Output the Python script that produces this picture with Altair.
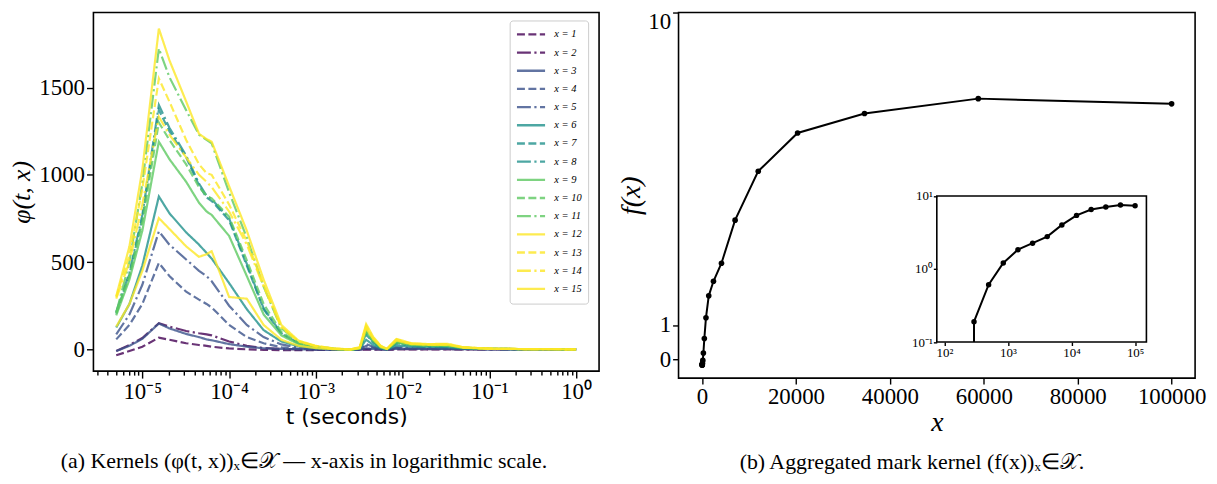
import altair as alt
import pandas as pd

SERIF = "Liberation Serif"
SANS = "DejaVu Sans"

# ---------------- left panel data: kernels phi(t, x) ----------------
t_grid = [5.0e-6, 7.1e-6, 1.0e-5, 1.55e-5, 2.05e-5, 3.2e-5, 4.5e-5, 5.5e-5, 6.3e-5, 1.0e-4,
          1.6e-4, 2.5e-4, 4.0e-4, 6.3e-4, 1.0e-3, 1.6e-3, 2.5e-3, 3.2e-3, 3.8e-3, 4.6e-3,
          5.6e-3, 6.6e-3, 8.5e-3, 1.26e-2, 2.0e-2, 3.3e-2, 5.0e-2, 0.1, 0.32, 1.0]

phi_x1 = [-34, -10, 15, 67, 55, 35, 25, 20, 15, 5, 0, -3, -5, -5, -4, -3, -3, -3, -2, -2, -2, -2, -1, -1, 0, 0, 0, 0, 0, 0]
phi_x2 = [-10, 25, 65, 150, 130, 105, 92, 86, 80, 45, 20, 8, 2, 0, -2, -3, -3, -2, 3, 1, 0, -1, 2, 1, 1, 1, 0, 0, 0, 0]
phi_x3 = [-10, 20, 60, 148, 120, 88, 70, 57, 52, 30, 15, 6, 2, 0, -2, -3, -3, -2, 5, 2, 0, -1, 3, 2, 2, 2, 1, 0, 0, 0]
phi_x4 = [57, 140, 260, 495, 420, 330, 285, 260, 240, 140, 70, 35, 12, 4, 1, 0, -3, 0, 20, 9, 2, -1, 8, 5, 5, 4, 2, 1, 0, 0]
phi_x5 = [86, 200, 370, 676, 600, 515, 450, 419, 390, 250, 140, 70, 28, 10, 3, 0, -3, 0, 30, 14, 3, -1, 12, 8, 7, 6, 3, 1, 0, 0]
phi_x6 = [125, 260, 480, 876, 780, 670, 600, 552, 520, 380, 230, 110, 45, 18, 6, 1, -2, 3, 55, 25, 6, 0, 22, 15, 14, 12, 5, 2, 1, 0]
phi_x7 = [205, 430, 750, 1371, 1250, 1100, 940, 870, 850, 740, 480, 230, 90, 35, 12, 2, -2, 5, 85, 40, 10, 0, 35, 22, 20, 18, 8, 3, 1, 0]
phi_x8 = [215, 440, 770, 1400, 1270, 1110, 950, 880, 860, 750, 490, 235, 92, 36, 12, 2, -2, 5, 90, 42, 10, 0, 36, 22, 20, 18, 8, 3, 1, 0]
phi_x9 = [195, 400, 680, 1190, 1090, 960, 840, 790, 770, 650, 420, 200, 80, 30, 10, 2, -2, 5, 100, 48, 12, 1, 40, 25, 22, 20, 9, 3, 1, 0]
phi_x10 = [210, 420, 730, 1300, 1200, 1060, 930, 880, 865, 760, 510, 260, 100, 38, 14, 3, -2, 6, 105, 50, 12, 1, 42, 26, 23, 20, 9, 3, 1, 0]
phi_x11 = [210, 500, 950, 1724, 1560, 1370, 1230, 1200, 1180, 900, 640, 360, 120, 45, 18, 4, -2, 8, 110, 55, 15, 2, 45, 30, 25, 22, 10, 3, 1, 0]
phi_x12 = [130, 260, 450, 752, 690, 590, 530, 545, 562, 300, 290, 140, 55, 20, 7, 1, -2, 6, 120, 58, 15, 2, 50, 30, 26, 26, 10, 3, 1, 0]
phi_x13 = [300, 540, 920, 1552, 1420, 1200, 1060, 1010, 1000, 830, 620, 370, 130, 45, 18, 4, 0, 10, 130, 62, 18, 3, 55, 32, 28, 28, 11, 4, 1, 0]
phi_x14 = [290, 500, 830, 1333, 1230, 1100, 1000, 960, 930, 790, 600, 360, 125, 45, 18, 4, 0, 10, 135, 65, 18, 3, 57, 33, 28, 30, 11, 4, 1, 0]
phi_x15 = [305, 590, 1030, 1838, 1657, 1420, 1235, 1205, 1190, 935, 680, 400, 140, 50, 20, 5, 0, 12, 145, 70, 20, 3, 60, 35, 30, 32, 12, 4, 1, 0]

phi_curves = [phi_x1, phi_x2, phi_x3, phi_x4, phi_x5, phi_x6, phi_x7, phi_x8,
              phi_x9, phi_x10, phi_x11, phi_x12, phi_x13, phi_x14, phi_x15]
series_labels = [f"x = {k}" for k in range(1, 16)]
series_colors = ["#440154", "#440154", "#3b528b", "#3b528b", "#3b528b",
                 "#21918c", "#21918c", "#21918c", "#5ec962", "#5ec962", "#5ec962",
                 "#fde725", "#fde725", "#fde725", "#fde725"]
DASHED = [8, 3.5]
DASHDOT = [14, 3.5, 2.2, 3.5]
SOLID = [1, 0]
series_dashes = [DASHED, DASHDOT, SOLID] * 5

left_major = [1e-5, 1e-4, 1e-3, 1e-2, 1e-1, 1.0]
left_major_labels = ["10⁻⁵", "10⁻⁴", "10⁻³", "10⁻²", "10⁻¹", "10⁰"]
left_y_ticks = [0, 500, 1000, 1500]
left_x_domain = [2.73e-6, 1.84]
left_y_domain = [-125, 1930]

# ---------------- right panel data: aggregated mark kernel f(x) ----------------
x_marks = [12, 20, 35, 59, 101, 172, 292, 496, 843, 1434, 2437, 4143, 7043,
           11973, 20354, 34602, 58824, 100000]
f_vals = [-0.14, -0.15, -0.15, -0.15, -0.10, -0.02, 0.19, 0.61, 1.21, 1.84, 2.26,
          2.78, 4.02, 5.43, 6.53, 7.09, 7.52, 7.37]
right_x_ticks = [0, 20000, 40000, 60000, 80000, 100000]
right_y_ticks = [0, 1, 10]
right_x_domain = [-5000, 105000]
right_y_domain = [-0.53, 10]

inset_x_ticks = [1e2, 1e3, 1e4, 1e5]
inset_x_labels = ["10²", "10³", "10⁴", "10⁵"]
inset_y_ticks = [0.1, 1, 10]
inset_y_labels = ["10⁻¹", "10⁰", "10¹"]
inset_x_domain = [75.9, 150660]
inset_y_domain = [0.1, 10]


def log_label_expr(vals, labs):
    expr = f"'{labs[-1]}'"
    for v, lab in reversed(list(zip(vals[:-1], labs[:-1]))):
        expr = f"datum.value < {v * 3.1623} ? '{lab}' : ({expr})"
    return expr


# ---------------- left chart ----------------
rows = []
for lab, curve in zip(series_labels, phi_curves):
    for t, v in zip(t_grid, curve):
        rows.append({"t": t, "phi": v, "series": lab})
df_left = pd.DataFrame(rows)

minor = []
for d in range(-6, 1):
    for m in range(2, 10):
        v = m * 10.0 ** d
        if left_x_domain[0] <= v <= left_x_domain[1]:
            minor.append(v)

LW, LH = 509, 361
x_scale_left = alt.Scale(type="log", domain=left_x_domain, nice=False)

legend_def = alt.Legend(
    title=None, orient="none", legendX=419, legendY=8,
    fillColor="white", strokeColor="#cccccc", cornerRadius=3, padding=6,
    symbolType="stroke", symbolSize=800, symbolStrokeWidth=2.4,
    clipHeight=16, rowPadding=2.3, labelFont=SERIF, labelFontSize=10.5,
    labelFontStyle="italic", labelOffset=8, labelColor="black",
)

lines = alt.Chart(df_left).mark_line(strokeWidth=2.2, opacity=0.8, clip=True).encode(
    x=alt.X("t:Q", scale=x_scale_left,
            axis=alt.Axis(values=left_major, labelExpr=log_label_expr(left_major, left_major_labels),
                          title="t (seconds)", titleFont=SANS, titleFontSize=22,
                          titleFontWeight="normal", titlePadding=3, tickSize=7,
                          labelFontSize=23, labelPadding=3, orient="bottom")),
    y=alt.Y("phi:Q", scale=alt.Scale(domain=left_y_domain, nice=False, zero=False),
            axis=alt.Axis(values=left_y_ticks, format="d", title="φ(t, x)", titleFontStyle="italic",
                          titleFontSize=26, titleFontWeight="normal", titlePadding=4,
                          tickSize=7, labelFontSize=23, labelPadding=2)),
    color=alt.Color("series:N", scale=alt.Scale(domain=series_labels, range=series_colors),
                    legend=legend_def),
    strokeDash=alt.StrokeDash("series:N", scale=alt.Scale(domain=series_labels, range=series_dashes),
                              legend=legend_def),
)

minor_layer = alt.Chart(pd.DataFrame({"t": minor})).mark_point(opacity=0).encode(
    x=alt.X("t:Q", scale=x_scale_left,
            axis=alt.Axis(values=minor, labels=False, title=None, tickSize=4, orient="bottom")),
)

left = alt.layer(lines, minor_layer).resolve_axis(x="independent").properties(
    width=LW, height=LH,
    title=alt.Title("(a) Kernels (φ(t, x))ₓ∈𝒳 — x-axis in logarithmic scale.",
                    orient="bottom", anchor="middle", frame="bounds", font=SERIF,
                    fontSize=22, fontWeight="normal", offset=24, color="black"),
)

# ---------------- right chart ----------------
RW, RH = 520, 368
df_right = pd.DataFrame({"xv": x_marks, "f": f_vals})
first_pos = next((xv, fv) for xv, fv in zip(x_marks, f_vals) if fv > inset_y_domain[0])
df_first = pd.DataFrame({"xv": [first_pos[0]], "f": [first_pos[1]]})

main_r = alt.Chart(df_right).mark_line(
    color="black", strokeWidth=2,
    point=alt.OverlayMarkDef(color="black", size=32, filled=True, opacity=1),
).encode(
    x=alt.X("xv:Q", scale=alt.Scale(domain=right_x_domain, nice=False, zero=False),
            axis=alt.Axis(values=right_x_ticks, format="d", title="x", titleFontStyle="italic",
                          titleFontSize=28, titleFontWeight="normal", titlePadding=0,
                          tickSize=6, labelFontSize=23, labelPadding=2)),
    y=alt.Y("f:Q", scale=alt.Scale(domain=right_y_domain, nice=False, zero=False),
            axis=alt.Axis(values=right_y_ticks, title="f(x)", titleFontStyle="italic",
                          titleFontSize=28, titleFontWeight="normal", titlePadding=2,
                          tickSize=6, labelFontSize=23, labelPadding=2,
                          labelFlush=1, labelFlushOffset=2)),
)

ix_range = [260, 471]
iy_range = [331.7, 184.7]
ix_scale = alt.Scale(type="log", domain=inset_x_domain, range=ix_range, nice=False)
iy_scale = alt.Scale(type="log", domain=inset_y_domain, range=iy_range, nice=False)

inset_line = alt.Chart(df_right).transform_filter(
    f"datum.f > {inset_y_domain[0]}"
).mark_line(
    color="black", strokeWidth=2,
    point=alt.OverlayMarkDef(color="black", size=30, filled=True, opacity=1),
).encode(
    x=alt.X("xv:Q", scale=ix_scale,
            axis=alt.Axis(values=inset_x_ticks, labelExpr=log_label_expr(inset_x_ticks, inset_x_labels),
                          title=None, orient="bottom", offset=-(RH - iy_range[0]),
                          tickSize=3.5, labelFontSize=13, labelPadding=1)),
    y=alt.Y("f:Q", scale=iy_scale,
            axis=alt.Axis(values=inset_y_ticks, labelExpr=log_label_expr(inset_y_ticks, inset_y_labels),
                          title=None, orient="left", offset=-ix_range[0],
                          tickSize=3.5, labelFontSize=13, labelPadding=1)),
)

inset_rule = alt.Chart(df_first).mark_rule(color="black", strokeWidth=2).encode(
    x="xv:Q", y="f:Q", y2=alt.datum(inset_y_domain[0]),
)

inset_frame = alt.Chart(pd.DataFrame({"k": [0]})).mark_rect(
    fill="transparent", stroke="black", strokeWidth=1.6,
).encode(
    x=alt.datum(inset_x_domain[0]), x2=alt.datum(inset_x_domain[1]),
    y=alt.datum(inset_y_domain[0]), y2=alt.datum(inset_y_domain[1]),
)

inset = alt.layer(inset_line, inset_rule, inset_frame)

right = alt.layer(main_r, inset).resolve_scale(x="independent", y="independent").properties(
    width=RW, height=RH,
    title=alt.Title("(b) Aggregated mark kernel (f(x))ₓ∈𝒳.",
                    orient="bottom", anchor="middle", frame="bounds", font=SERIF,
                    fontSize=22, fontWeight="normal", offset=16, color="black"),
)

chart = alt.hconcat(left, right, spacing=17).properties(
    padding={"left": 0, "top": 0, "right": 2, "bottom": 2},
).configure_view(
    stroke="black", strokeWidth=1.6,
).configure_axis(
    labelFont=SERIF, titleFont=SERIF, labelColor="black", titleColor="black",
    tickColor="black", tickWidth=1.4, grid=False, domain=False,
)

chart.save("out.html", embed_options={"renderer": "svg", "actions": False})
